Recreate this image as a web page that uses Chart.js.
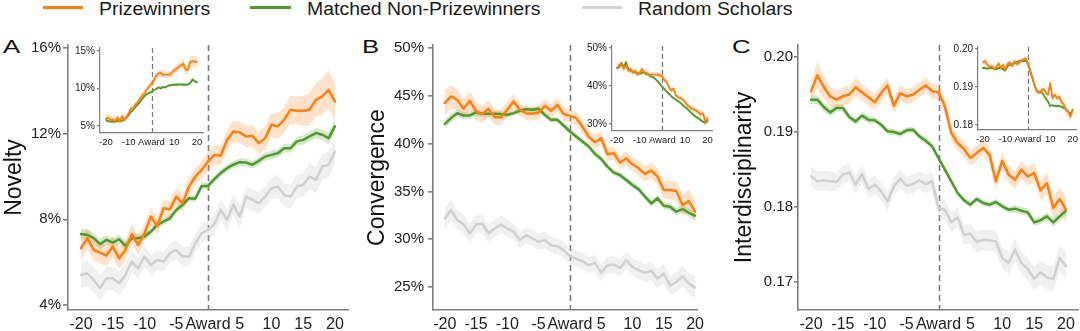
<!DOCTYPE html>
<html><head><meta charset="utf-8">
<script src="https://cdn.jsdelivr.net/npm/chart.js@4.4.0/dist/chart.umd.min.js"></script>
<style>
html,body{margin:0;padding:0;background:#fff;}
body{width:1080px;height:331px;position:relative;overflow:hidden;font-family:'Liberation Sans',Arial,Helvetica,sans-serif;}
canvas{position:absolute;}
.leg{position:absolute;top:-1px;font-size:18px;line-height:20px;color:#1a1a1a;white-space:nowrap;transform:scaleX(1.08);transform-origin:left center;}
.legline{position:absolute;top:6px;height:3px;}
.letter{position:absolute;top:36px;font-size:19px;line-height:22px;color:#111;transform:scaleX(1.35);transform-origin:left center;}
</style></head><body>
<div class="legline" style="left:43px;width:40px;background:#ff7f0e"></div>
<div class="leg" style="left:99px">Prizewinners</div>
<div class="legline" style="left:250px;width:41px;background:#509a2d"></div>
<div class="leg" style="left:307px">Matched Non-Prizewinners</div>
<div class="legline" style="left:582px;width:40px;background:#d3d3d3"></div>
<div class="leg" style="left:638px">Random Scholars</div>
<div class="letter" style="left:3px">A</div>
<div class="letter" style="left:362px">B</div>
<div class="letter" style="left:732px">C</div>
<canvas id="cA"></canvas><canvas id="cB"></canvas><canvas id="cC"></canvas>
<canvas id="iA"></canvas><canvas id="iB"></canvas><canvas id="iC"></canvas>
<script>
// ---------- categories / ticks ----------
const years = [-20,-19,-18,-17,-16,-15,-14,-13,-12,-11,-10,-9,-8,-7,-6,-5,-4,-3,-2,-1,0,1,2,3,4,5,6,7,8,9,10,11,12,13,14,15,16,17,18,19,20];
const xTicksMain = [-20,-15,-10,-5,0,5,10,15,20];
const xTicksInset = [-20,-10,0,10,20];
const yTicksNovelty = [4,8,12,16];
const yTicksNoveltyInset = [5,10,15];
const yTicksConvergence = [25,30,35,40,45,50];
const yTicksConvergenceInset = [30,40,50];
const yTicksInterdisc = [0.17,0.18,0.19,0.20];
const yTicksInterdiscInset = [0.18,0.19,0.20];

// ---------- Panel A: Novelty (%) ----------
const noveltyPrize = [6.65,7.12,6.57,6.45,6.31,6.73,6.18,6.57,7.32,6.8, 7.35,8.13,7.69,8.52,8.47,9.06,8.75,9.53,10.0,10.31, 10.7,11.01,10.97,11.71,12.1,12.06,11.87,11.9,11.56,11.79,12.42, 12.34,12.65,13.12,13.07,13.07,13.12,13.58,13.74,14.05,13.5];
const noveltyPrizeCI = [0.55,0.5,0.5,0.5,0.5,0.5,0.5,0.5,0.45,0.45, 0.4,0.4,0.4,0.4,0.4,0.4,0.4,0.4,0.4,0.4, 0.45,0.45,0.45,0.45,0.5,0.5,0.5,0.5,0.5,0.55,0.55, 0.6,0.6,0.65,0.65,0.7,0.75,0.8,0.85,0.9,0.9];
const noveltyMatched = [7.32,7.27,7.12,6.84,7.04,6.91,7.07,6.76,7.12,7.12, 7.2,7.43,7.74,7.9,8.05,8.44,8.68,8.99,8.96,9.56, 9.56,9.88,10.16,10.39,10.55,10.67,10.65,10.55,10.73,10.93,11.01, 11.09,11.32,11.32,11.64,11.71,11.87,12.03,11.95,11.79,12.34];
const noveltyMatchedCI = [0.25,0.25,0.25,0.25,0.22,0.22,0.22,0.22,0.2,0.2, 0.18,0.18,0.16,0.15,0.15,0.15,0.15,0.15,0.15,0.15, 0.16,0.16,0.16,0.17,0.17,0.18,0.18,0.18,0.18,0.19,0.19, 0.2,0.2,0.2,0.22,0.22,0.22,0.24,0.25,0.28,0.3];
const noveltyRandom = [5.4,5.48,5.17,4.78,5.25,5.25,5.01,5.4,6.03,5.71, 6.26,5.87,6.1,6.03,6.42,6.57,6.26,6.26,6.88,7.35, 7.51,7.77,8.44,7.97,8.68,8.13,9.06,8.91,8.75,9.06,9.45, 9.53,9.14,9.06,9.53,9.61,10.0,9.84,10.47,10.55,11.17];
const noveltyRandomCI = [0.6,0.6,0.6,0.6,0.55,0.55,0.55,0.55,0.5,0.5, 0.5,0.45,0.45,0.45,0.45,0.45,0.45,0.45,0.45,0.45, 0.45,0.5,0.5,0.5,0.5,0.5,0.5,0.5,0.5,0.5,0.5, 0.55,0.55,0.55,0.55,0.55,0.6,0.6,0.6,0.6,0.65];
const noveltyInsetPrize = [6.0,6.15,5.8,5.9,5.6,6.15,5.6,6.3,5.8,6.2, 6.7,7.35,7.35,7.9,8.2,8.7,9.1,9.35,9.9,10.3, 10.65,11.1,11.65,12.0,12.1,11.8,11.85,11.85,11.85,12.1,12.45, 12.65,12.9,13.1,13.3,12.5,12.5,13.55,13.65,13.6,13.55];
const noveltyInsetPrizeCI = [0.5,0.5,0.5,0.5,0.5,0.5,0.5,0.45,0.45,0.45, 0.4,0.4,0.4,0.4,0.4,0.4,0.4,0.4,0.4,0.4, 0.4,0.45,0.45,0.45,0.45,0.45,0.45,0.45,0.45,0.5,0.5, 0.5,0.55,0.55,0.6,0.6,0.65,0.7,0.7,0.75,0.75];
const noveltyInsetMatched = [5.8,5.65,5.6,5.6,5.6,5.7,5.65,5.7,5.9,6.15, 6.45,6.9,7.2,7.55,7.9,8.2,8.65,9.0,9.25,9.4, 9.55,9.8,9.9,10.15,10.0,10.2,10.15,10.3,10.45,10.45,10.5, 10.5,10.55,10.55,10.5,10.5,10.55,10.7,11.2,10.95,10.85];
const noveltyInsetMatchedCI = [0.2,0.2,0.2,0.2,0.2,0.2,0.2,0.2,0.2,0.2, 0.18,0.18,0.18,0.18,0.18,0.18,0.18,0.18,0.18,0.18, 0.18,0.18,0.18,0.18,0.18,0.18,0.18,0.18,0.18,0.2,0.2, 0.2,0.2,0.2,0.22,0.22,0.22,0.24,0.25,0.25,0.25];

// ---------- Panel B: Convergence (%) ----------
const convPrize = [44.23,44.93,44.58,43.64,44.48,43.36,43.08,43.64,42.76,42.76, 43.53,44.41,43.53,43.18,43.11,43.25,43.95,43.43,44.06,43.08, 42.9,42.66,41.78,40.73,40.14,40.56,38.88,38.99,38.0,38.46,37.83, 37.41,36.82,37.17,36.54,35.14,35.14,35.03,33.57,33.99,32.87];
const convPrizeCI = [1.3,1.2,1.1,1.0,1.0,0.9,0.9,0.9,0.8,0.8, 0.8,0.8,0.7,0.7,0.7,0.7,0.7,0.7,0.7,0.7, 0.7,0.7,0.7,0.7,0.7,0.7,0.7,0.7,0.7,0.75,0.75, 0.8,0.8,0.8,0.85,0.9,0.95,1.0,1.1,1.2,1.2];
const convMatched = [42.06,42.66,43.18,42.94,42.94,43.25,43.11,43.11,43.11,43.08, 43.0,43.18,43.43,43.6,43.53,43.64,43.0,42.48,42.48,41.89, 41.26,40.73,40.21,39.69,38.92,38.39,37.59,36.96,36.71,36.19,35.66, 35.21,34.44,33.74,34.27,33.5,33.39,32.87,33.15,32.76,32.45];
const convMatchedCI = [0.45,0.45,0.4,0.4,0.4,0.35,0.35,0.35,0.35,0.35, 0.3,0.3,0.3,0.3,0.3,0.3,0.3,0.3,0.3,0.3, 0.3,0.3,0.3,0.3,0.3,0.3,0.3,0.3,0.3,0.3,0.3, 0.3,0.32,0.32,0.34,0.35,0.36,0.38,0.4,0.42,0.45];
const convRandom = [32.17,33.04,31.99,31.57,30.59,31.54,31.64,30.59,31.12,31.54, 31.12,30.77,29.9,30.42,30.07,29.72,29.9,29.37,29.27,28.85, 28.22,27.97,27.69,27.27,27.52,26.47,27.27,27.34,26.99,27.8,27.1, 26.75,26.47,26.68,25.87,26.4,25.17,25.52,26.12,25.35,24.93];
const convRandomCI = [1.1,1.1,1.0,1.0,1.0,0.95,0.95,0.95,0.9,0.9, 0.9,0.85,0.85,0.85,0.85,0.85,0.85,0.85,0.85,0.85, 0.85,0.85,0.85,0.85,0.85,0.9,0.9,0.9,0.9,0.9,0.9, 0.95,0.95,0.95,1.0,1.0,1.0,1.05,1.1,1.1,1.2];
const convInsetPrize = [44.8,45.5,45.8,44.5,45.5,44.0,44.5,43.5,44.0,43.0, 43.5,44.5,43.5,43.5,43.0,43.0,43.0,43.0,43.0,42.8, 42.5,41.5,41.0,39.5,38.8,39.3,37.5,37.0,36.8,36.5,35.8, 35.0,34.5,34.0,33.8,33.5,33.0,32.5,32.8,30.5,31.5];
const convInsetPrizeCI = [1.0,1.0,1.0,0.9,0.9,0.9,0.8,0.8,0.8,0.8, 0.7,0.7,0.7,0.7,0.7,0.7,0.7,0.7,0.7,0.7, 0.7,0.7,0.7,0.7,0.7,0.7,0.7,0.7,0.7,0.7,0.7, 0.8,0.8,0.8,0.8,0.9,0.9,1.0,1.0,1.1,1.1];
const convInsetMatched = [44.8,45.0,46.0,45.0,46.3,44.5,44.0,43.8,43.5,43.5, 43.2,43.5,43.5,43.2,43.0,42.5,42.3,41.8,41.2,40.5, 39.8,39.2,38.5,38.0,37.3,36.8,36.4,36.0,35.6,35.0,34.5, 34.0,33.4,32.8,32.3,31.8,31.5,31.0,30.6,30.3,30.8];
const convInsetMatchedCI = [0.5,0.5,0.5,0.5,0.5,0.45,0.45,0.45,0.4,0.4, 0.4,0.4,0.4,0.4,0.4,0.4,0.4,0.4,0.4,0.4, 0.4,0.4,0.4,0.4,0.4,0.4,0.4,0.4,0.4,0.4,0.4, 0.4,0.4,0.4,0.45,0.45,0.45,0.5,0.5,0.5,0.5];

// ---------- Panel C: Interdisciplinarity ----------
const interPrize = [0.19542,0.19756,0.196,0.19476,0.19431,0.19476,0.19498,0.19596,0.19529,0.19462, 0.19396,0.1952,0.19618,0.19351,0.1952,0.19476,0.19498,0.19564,0.19622,0.19542, 0.19529,0.19342,0.18987,0.18853,0.18773,0.18653,0.1872,0.18787,0.18698,0.18342,0.18618, 0.18431,0.18364,0.18498,0.18409,0.18453,0.18222,0.1832,0.17987,0.18107,0.17964];
const interPrizeCI = [0.0012,0.0018,0.0015,0.0013,0.0012,0.0012,0.0012,0.0012,0.0011,0.0011, 0.0011,0.0011,0.0011,0.001,0.001,0.001,0.001,0.001,0.001,0.001, 0.001,0.001,0.001,0.001,0.001,0.001,0.001,0.001,0.0011,0.0011,0.0011, 0.0011,0.0012,0.0012,0.0012,0.0013,0.0013,0.0014,0.0015,0.0016,0.0017];
const interMatched = [0.19431,0.19431,0.19333,0.19262,0.1932,0.1932,0.192,0.19142,0.19218,0.19164, 0.19156,0.19098,0.19009,0.19,0.18973,0.19022,0.19031,0.18942,0.18884,0.18809, 0.18653,0.18498,0.18342,0.18187,0.18089,0.18031,0.18107,0.18053,0.18031,0.18067,0.18009, 0.17964,0.17978,0.17951,0.17929,0.17796,0.17822,0.17876,0.17796,0.17876,0.17951];
const interMatchedCI = [0.0006,0.0006,0.0006,0.0005,0.0005,0.0005,0.0005,0.0005,0.0005,0.0005, 0.0004,0.0004,0.0004,0.0004,0.0004,0.0004,0.0004,0.0004,0.0004,0.0004, 0.0004,0.0004,0.0004,0.0004,0.0004,0.0004,0.0004,0.0004,0.0004,0.0004,0.0004, 0.0004,0.0005,0.0005,0.0005,0.0005,0.0005,0.0005,0.0006,0.0006,0.0006];
const interRandom = [0.18409,0.18342,0.18356,0.18342,0.18333,0.18431,0.18462,0.18298,0.1844,0.1824, 0.18298,0.18209,0.18076,0.18276,0.18378,0.18284,0.18307,0.18356,0.18307,0.18342, 0.17987,0.17964,0.17796,0.17862,0.17631,0.17644,0.17533,0.17564,0.17556,0.17542,0.1732, 0.17253,0.17431,0.17253,0.17173,0.17044,0.17129,0.17062,0.1704,0.1732,0.17209];
const interRandomCI = [0.0013,0.0013,0.0013,0.0013,0.0012,0.0012,0.0012,0.0012,0.0012,0.0012, 0.0012,0.0012,0.0012,0.0012,0.0012,0.0012,0.0012,0.0012,0.0012,0.0012, 0.0013,0.0013,0.0013,0.0013,0.0013,0.0013,0.0014,0.0014,0.0014,0.0014,0.0014, 0.0015,0.0015,0.0015,0.0015,0.0016,0.0016,0.0016,0.0017,0.0017,0.0018];
const interInsetPrize = [0.1965,0.1968,0.1958,0.1952,0.1955,0.1948,0.1952,0.1962,0.195,0.1958, 0.1945,0.1962,0.1965,0.1955,0.1968,0.196,0.1962,0.197,0.1972,0.1975, 0.1965,0.1942,0.1925,0.1905,0.1888,0.1885,0.189,0.1895,0.1885,0.188,0.191, 0.187,0.188,0.187,0.1875,0.186,0.1855,0.184,0.1835,0.1822,0.1838];
const interInsetPrizeCI = [0.0009,0.0009,0.0009,0.0008,0.0008,0.0008,0.0008,0.0008,0.0007,0.0007, 0.0007,0.0007,0.0007,0.0007,0.0007,0.0007,0.0007,0.0007,0.0007,0.0007, 0.0007,0.0007,0.0007,0.0007,0.0007,0.0007,0.0007,0.0007,0.0008,0.0008,0.0008, 0.0008,0.0008,0.0008,0.0009,0.0009,0.0009,0.001,0.001,0.001,0.001];
const interInsetMatched = [0.195,0.195,0.1948,0.195,0.195,0.1948,0.1947,0.195,0.195,0.1947, 0.1943,0.1955,0.1958,0.196,0.1962,0.1965,0.1968,0.1968,0.1968,0.197, 0.1962,0.1945,0.1925,0.1905,0.189,0.1885,0.1887,0.188,0.187,0.1862,0.185, 0.1852,0.185,0.185,0.185,0.1848,0.1845,0.1842,0.1835,0.1828,0.184];
const interInsetMatchedCI = [0.0004,0.0004,0.0004,0.0004,0.0004,0.0004,0.0004,0.0004,0.0004,0.0004, 0.0003,0.0003,0.0003,0.0003,0.0003,0.0003,0.0003,0.0003,0.0003,0.0003, 0.0003,0.0003,0.0003,0.0003,0.0003,0.0003,0.0003,0.0003,0.0003,0.0003,0.0003, 0.0003,0.0004,0.0004,0.0004,0.0004,0.0004,0.0004,0.0004,0.0004,0.0004];

// ---------- styling ----------
const FONT = "'Liberation Sans', Arial, Helvetica, sans-serif";
const AXIS = '#7f7f7f';
const C_OR = '#ff7f0e', C_GR = '#509a2d', C_GY = '#d0d0d0';
const B_OR = 'rgba(255,140,40,0.25)', B_GR = 'rgba(90,160,60,0.25)', B_GY = 'rgba(200,200,200,0.28)';

function series(vals, ci, line, band, lw, bandOrder, lineOrder) {
  return [
    {data: years.map((x,i)=>({x, y: vals[i]+ci[i]})), borderWidth:0, borderColor:'transparent', pointRadius:0, backgroundColor: band, fill:'+1', order: bandOrder},
    {data: years.map((x,i)=>({x, y: vals[i]-ci[i]})), borderWidth:0, borderColor:'transparent', pointRadius:0, fill:false, order: bandOrder},
    {data: years.map((x,i)=>({x, y: vals[i]})), borderColor: line, borderWidth: lw, pointRadius:0, fill:false, order: lineOrder, borderJoinStyle:'round', borderCapStyle:'round'}
  ];
}

const awardLine = {
  id:'awardLine',
  beforeDatasetsDraw(chart, args, o) {
    const {ctx, chartArea:{top,bottom}, scales:{x}} = chart;
    const px = Math.round(x.getPixelForValue(0)) + 0.5;
    ctx.save(); ctx.strokeStyle = o.color; ctx.lineWidth = o.width; ctx.setLineDash(o.dash);
    ctx.beginPath(); ctx.moveTo(px, top); ctx.lineTo(px, bottom); ctx.stroke(); ctx.restore();
  }
};

function makeChart(id, c) {
  const cv = document.getElementById(id);
  cv.width = c.w; cv.height = c.h;
  cv.style.width = c.w+'px'; cv.style.height = c.h+'px';
  cv.style.left = c.left+'px'; cv.style.top = c.top+'px';
  return new Chart(cv, {
    type:'line',
    data:{datasets:c.datasets},
    options:{
      responsive:false, animation:false, devicePixelRatio:1,
      layout:{padding:c.pad},
      plugins:{legend:{display:false}, tooltip:{enabled:false}, awardLine:{color:'#7a7a7a', width:c.dashW, dash:c.dash}},
      scales:{
        x:{type:'linear', min:c.xmin, max:c.xmax,
           afterBuildTicks: s => { s.ticks = c.xticks.map(v=>({value:v})); },
           afterFit: s => { s.height = c.xh; },
           grid:{display:false, drawTicks:true, tickLength:c.xtl},
           border:{display:true, color:AXIS, width:c.bw},
           ticks:{autoSkip:false, maxRotation:0, minRotation:0, padding:c.xpad, color:'#222', font:{family:FONT, size:c.xfs}, callback: v => v===0 ? 'Award' : String(v)}},
        y:{type:'linear', min:c.ymin, max:c.ymax,
           afterBuildTicks: s => { s.ticks = c.yticks.map(v=>({value:v})); },
           afterFit: s => { s.width = c.yw; },
           grid:{display:true, drawOnChartArea:false, drawTicks:true, tickLength:c.ytl, color:AXIS, lineWidth:c.bw},
           border:{display:true, color:AXIS, width:c.bw},
           ticks:{padding:c.ypad, color:'#222', font:{family:FONT, size:c.yfs}, callback:c.yfmt},
           title: c.title ? {display:true, text:c.title, color:'#111', font:{family:FONT, size:23}, padding:{top:c.tpad, bottom:0}} : {display:false}}
      }
    },
    plugins:[awardLine]
  });
}

const pct = v => v + '%';
const dec2 = v => Number(v).toFixed(2);
const mainCommon = {top:0, h:331, xh:21, xtl:4, xpad:1, xfs:16, yfs:15, bw:1.6, dashW:1.6, dash:[6,4], xticks:xTicksMain};
const insetCommon = {xh:14, xtl:2, xpad:2, xfs:9.5, yfs:10, ytl:3, ypad:2, bw:1.2, dashW:1.3, dash:[5,3], xticks:xTicksInset, yw:30};

makeChart('cA', Object.assign({}, mainCommon, {
  left:0, w:350, pad:{top:45,right:2,bottom:0,left:0}, yw:68, ytl:5, ypad:2, tpad:1, title:'Novelty',
  xmin:-22.05, xmax:22.05, ymin:3.767, ymax:16.14, yticks:yTicksNovelty, yfmt:pct,
  datasets:[].concat(
    series(noveltyRandom, noveltyRandomCI, C_GY, B_GY, 2.5, 60, 50),
    series(noveltyMatched, noveltyMatchedCI, C_GR, B_GR, 2.5, 40, 20),
    series(noveltyPrize, noveltyPrizeCI, C_OR, B_OR, 2.5, 30, 10))
}));
makeChart('cB', Object.assign({}, mainCommon, {
  left:360, w:345, pad:{top:45,right:2,bottom:0,left:0}, yw:73, ytl:5, ypad:4, tpad:4, title:'Convergence',
  xmin:-21.875, xmax:20.31, ymin:22.59, ymax:50.31, yticks:yTicksConvergence, yfmt:pct,
  datasets:[].concat(
    series(convRandom, convRandomCI, C_GY, B_GY, 2.5, 60, 50),
    series(convMatched, convMatchedCI, C_GR, B_GR, 2.5, 40, 20),
    series(convPrize, convPrizeCI, C_OR, B_OR, 2.5, 30, 10))
}));
makeChart('cC', Object.assign({}, mainCommon, {
  left:730, w:350, pad:{top:45,right:2,bottom:0,left:0}, yw:68, ytl:4, ypad:1, tpad:1, title:'Interdisciplinarity',
  xmin:-22.04, xmax:21.88, ymin:0.16627, ymax:0.2016, yticks:yTicksInterdisc, yfmt:dec2,
  datasets:[].concat(
    series(interRandom, interRandomCI, C_GY, B_GY, 2.5, 60, 50),
    series(interMatched, interMatchedCI, C_GR, B_GR, 2.5, 40, 20),
    series(interPrize, interPrizeCI, C_OR, B_OR, 2.5, 30, 10))
}));
makeChart('iA', Object.assign({}, insetCommon, {
  left:70, top:38, w:135, h:109, pad:{top:10,right:2,bottom:0,left:0},
  xmin:-22.64, xmax:22.64, ymin:4.07, ymax:15.4, yticks:yTicksNoveltyInset, yfmt:pct,
  datasets:[].concat(
    series(noveltyInsetMatched, noveltyInsetMatchedCI, C_GR, B_GR, 1.8, 40, 20),
    series(noveltyInsetPrize, noveltyInsetPrizeCI, C_OR, B_OR, 1.8, 30, 10))
}));
makeChart('iB', Object.assign({}, insetCommon, {
  left:582, top:36, w:133, h:109, pad:{top:10,right:2,bottom:0,left:0},
  xmin:-22.2, xmax:22.2, ymin:28.16, ymax:50.53, yticks:yTicksConvergenceInset, yfmt:pct,
  datasets:[].concat(
    series(convInsetMatched, convInsetMatchedCI, C_GR, B_GR, 1.8, 40, 20),
    series(convInsetPrize, convInsetPrizeCI, C_OR, B_OR, 1.8, 30, 10))
}));
makeChart('iC', Object.assign({}, insetCommon, {
  left:948, top:37, w:132, h:107, pad:{top:10,right:2,bottom:0,left:0},
  xmin:-22.2, xmax:21.76, ymin:0.17868, ymax:0.20053, yticks:yTicksInterdiscInset, yfmt:dec2,
  datasets:[].concat(
    series(interInsetMatched, interInsetMatchedCI, C_GR, B_GR, 1.8, 40, 20),
    series(interInsetPrize, interInsetPrizeCI, C_OR, B_OR, 1.8, 30, 10))
}));
</script>
</body></html>
